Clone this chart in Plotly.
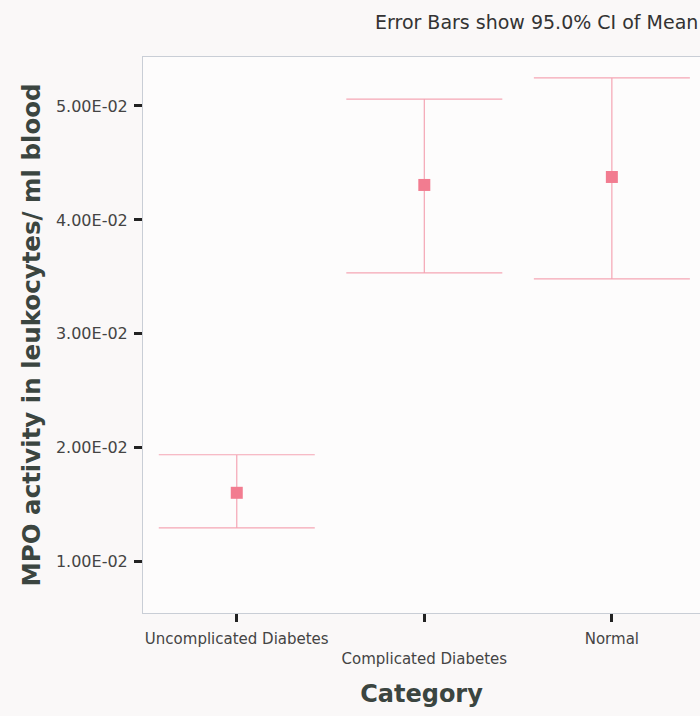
import plotly.graph_objects as go

categories = ["Uncomplicated Diabetes", "Complicated Diabetes", "Normal"]
tick_labels = ["Uncomplicated Diabetes", "<br>Complicated Diabetes", "Normal"]
means = [0.01605, 0.04307, 0.04377]
ci_upper = [0.01939, 0.05061, 0.05246]
ci_lower = [0.01298, 0.03535, 0.03482]

err_plus = [u - m for u, m in zip(ci_upper, means)]
err_minus = [m - l for m, l in zip(means, ci_lower)]

y_ticks = [0.01, 0.02, 0.03, 0.04, 0.05]
y_tick_text = ["1.00E-02", "2.00E-02", "3.00E-02", "4.00E-02", "5.00E-02"]

FONT = "DejaVu Sans, Verdana, sans-serif"

fig = go.Figure()
fig.add_trace(go.Scatter(
    x=list(range(len(categories))),
    y=means,
    mode="markers",
    marker=dict(symbol="square", size=12, color="#f27c90"),
    error_y=dict(type="data", symmetric=False, array=err_plus, arrayminus=err_minus,
                 color="#f5a5b4", thickness=1.2, width=78),
    showlegend=False,
))

fig.update_layout(
    width=700, height=716,
    margin=dict(l=143, r=0, t=57, b=103),
    paper_bgcolor="#faf8f8",
    plot_bgcolor="#fdfcfc",
    font=dict(family=FONT, color="#333333"),
    xaxis=dict(
        range=[-0.5, 2.47],
        tickmode="array",
        tickvals=list(range(len(categories))),
        ticktext=tick_labels,
        ticks="outside", ticklen=8, tickwidth=3, tickcolor="#222222",
        tickfont=dict(size=15, color="#444444"),
        ticklabelstandoff=4,
        showgrid=False, zeroline=False,
        showline=True, linecolor="#c9ced6", linewidth=1, mirror=True,
        title=dict(text="<b>Category</b>", font=dict(size=24, color="#3b4540"), standoff=18),
    ),
    yaxis=dict(
        range=[0.0055, 0.0543],
        tickmode="array",
        tickvals=y_ticks,
        ticktext=y_tick_text,
        ticks="outside", ticklen=8, tickwidth=3, tickcolor="#222222",
        tickfont=dict(size=16, color="#444444"),
        ticklabelstandoff=3,
        showgrid=False, zeroline=False,
        showline=True, linecolor="#c9ced6", linewidth=1, mirror=True,
        title=dict(text="<b>MPO activity in leukocytes/ ml blood</b>",
                   font=dict(size=24.5, color="#3b4540"), standoff=8),
    ),
    annotations=[dict(
        text="Error Bars show 95.0% CI of Mean",
        xref="paper", yref="paper", x=1.0, y=1.0,
        xanchor="right", yanchor="bottom", yshift=22,
        showarrow=False, font=dict(size=19, color="#333333"),
    )],
)

fig.write_html("out.html", config={"displayModeBar": False},
               post_script="document.body.style.margin='0';")
